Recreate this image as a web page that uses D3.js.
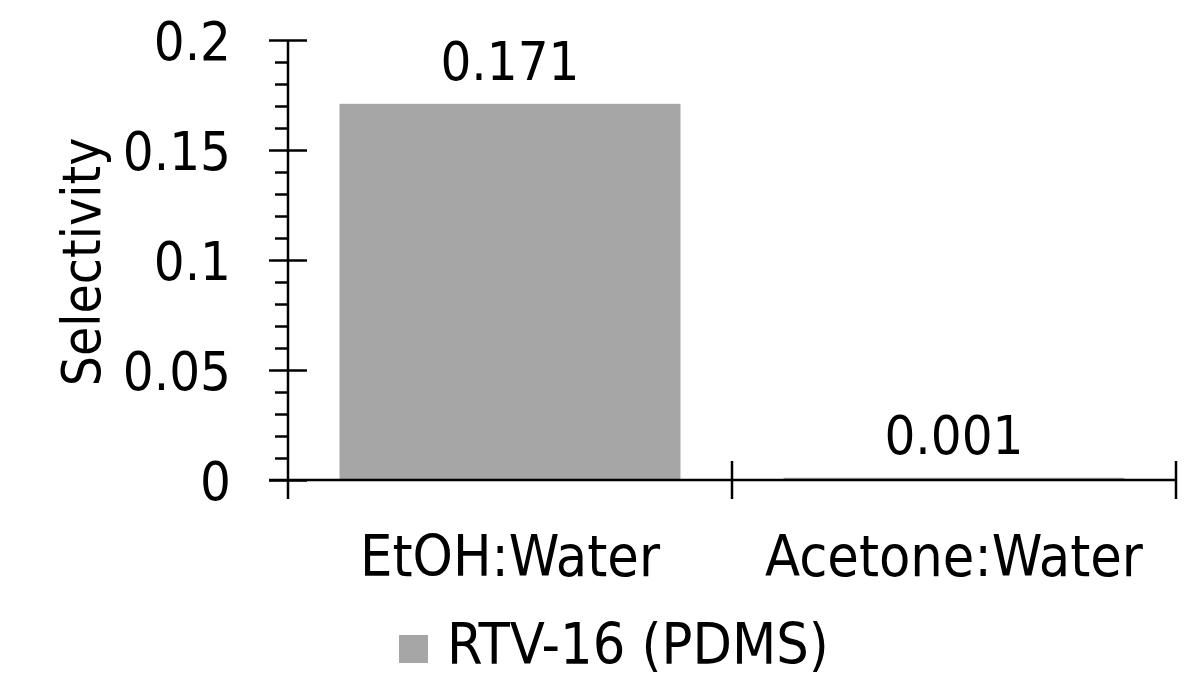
<!DOCTYPE html>
<html>
<head>
<meta charset="utf-8">
<script src="https://cdn.jsdelivr.net/npm/d3@7"></script>
<style>
  body { margin: 0; background: #fff; }
  text { font-family: "DejaVu Sans Condensed", "DejaVu Sans", sans-serif; font-stretch: condensed; fill: #000; }
</style>
</head>
<body>
<svg id="chart"></svg>
<script>
// data
var categories = ["EtOH:Water", "Acetone:Water"];
var selectivity = [0.171, 0.001];
var seriesName = "RTV-16 (PDMS)";
var majorTicks = [0, 0.05, 0.1, 0.15, 0.2];
var tickLabels = ["0", "0.05", "0.1", "0.15", "0.2"];

var width = 1203, height = 682;
var svg = d3.select("#chart").attr("width", width).attr("height", height);

var x = d3.scaleBand()
          .domain(categories)
          .range([288, 1176])
          .paddingInner(0.232)
          .paddingOuter(0.116);

var y = d3.scaleLinear()
          .domain([0, 0.2])
          .range([480, 40]);

// bars
svg.selectAll(".bar")
   .data(selectivity)
   .enter()
   .append("rect")
   .attr("class", "bar")
   .attr("x", function(d, i){ return x(categories[i]); })
   .attr("y", function(d){ return y(d); })
   .attr("width", x.bandwidth())
   .attr("height", function(d){ return y(0) - y(d); })
   .attr("fill", "#a6a6a6");

// value labels
svg.selectAll(".val")
   .data(selectivity)
   .enter()
   .append("text")
   .attr("class", "val")
   .attr("x", function(d, i){ return x(categories[i]) + x.bandwidth() / 2; })
   .attr("y", function(d){ return y(d) - 24; })
   .attr("text-anchor", "middle")
   .attr("font-size", 54)
   .text(function(d){ return d3.format(".3f")(d); });

// minor ticks every 0.01
var minor = d3.range(0, 0.2001, 0.01).filter(function(v){
  return Math.abs(Math.round(v * 20) - v * 20) > 1e-6;
});
var minorAxis = svg.append("g")
   .attr("transform", "translate(288,0)")
   .call(d3.axisLeft(y).tickValues(minor).tickSize(13).tickFormat(""));
minorAxis.select(".domain").remove();
minorAxis.selectAll("line").attr("stroke", "#000").attr("stroke-width", 2.5);

// major ticks, crossing the axis
var yAxis = svg.append("g")
   .attr("transform", "translate(288,0)")
   .call(d3.axisLeft(y).tickValues(majorTicks).tickSize(19).tickPadding(38)
          .tickFormat(function(d, i){ return tickLabels[i]; }));
yAxis.select(".domain").remove();
yAxis.selectAll(".tick line").attr("x1", 19).attr("stroke", "#000").attr("stroke-width", 2.5);
yAxis.selectAll(".tick text")
   .attr("font-size", 54)
   .attr("dy", "0.36em");
yAxis.attr("font-family", null);

svg.append("line")
   .attr("x1", 288).attr("x2", 288)
   .attr("y1", y(0.2)).attr("y2", 499)
   .attr("stroke", "#000").attr("stroke-width", 2.5);

// x axis with ticks at category boundaries
svg.append("line")
   .attr("x1", 269).attr("x2", 1176)
   .attr("y1", y(0)).attr("y2", y(0))
   .attr("stroke", "#000").attr("stroke-width", 2.5);

var bounds = categories.map(function(c){ return x(c) - x.step() * x.paddingOuter(); });
bounds.push(x.range()[1]);
svg.selectAll(".xtick")
   .data(bounds.slice(1))
   .enter()
   .append("line")
   .attr("x1", function(d){ return d; })
   .attr("x2", function(d){ return d; })
   .attr("y1", y(0) - 19).attr("y2", y(0) + 19)
   .attr("stroke", "#000").attr("stroke-width", 2.5);

svg.selectAll(".cat")
   .data(categories)
   .enter()
   .append("text")
   .attr("class", "cat")
   .attr("x", function(d){ return x(d) + x.bandwidth() / 2; })
   .attr("y", 576)
   .attr("text-anchor", "middle")
   .attr("font-size", 57)
   .text(function(d){ return d; });

// y title
svg.append("text")
   .attr("transform", "translate(100,262) rotate(-90)")
   .attr("text-anchor", "middle")
   .attr("font-size", 53)
   .text("Selectivity");

// legend
svg.append("rect")
   .attr("x", 399).attr("y", 635)
   .attr("width", 29).attr("height", 28)
   .attr("fill", "#a6a6a6");
svg.append("text")
   .attr("x", 447).attr("y", 664)
   .attr("font-size", 57)
   .text(seriesName);
</script>
</body>
</html>
